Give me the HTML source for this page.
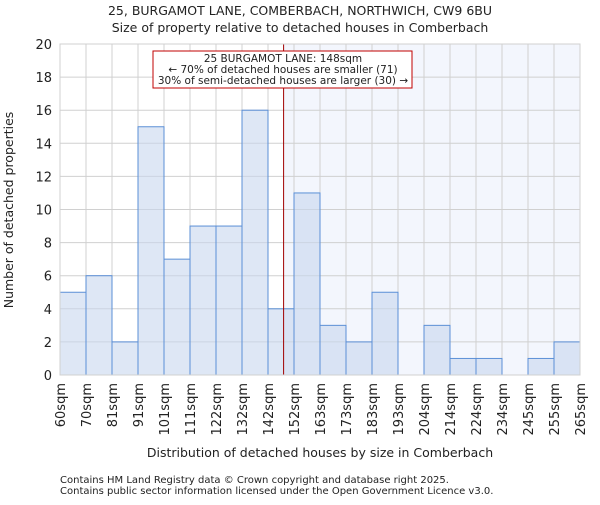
<!DOCTYPE html>
<html><head><meta charset="utf-8"><style>body{margin:0;background:#fff}text{font-family:"DejaVu Sans","Liberation Sans",sans-serif;fill:#222}</style></head>
<body>
<svg id="chart" width="600" height="500" xmlns="http://www.w3.org/2000/svg">
<text x="300" y="15" font-size="12.5" text-anchor="middle">25, BURGAMOT LANE, COMBERBACH, NORTHWICH, CW9 6BU</text>
<text x="300" y="32" font-size="12.5" text-anchor="middle">Size of property relative to detached houses in Comberbach</text>
<g id="plot"></g>
<text x="320" y="457" font-size="12.5" text-anchor="middle">Distribution of detached houses by size in Comberbach</text>
<text transform="translate(13,210) rotate(-90)" font-size="12.5" text-anchor="middle">Number of detached properties</text>
<text x="60" y="483" font-size="10" fill="#444">Contains HM Land Registry data © Crown copyright and database right 2025.</text>
<text x="60" y="494" font-size="10" fill="#444">Contains public sector information licensed under the Open Government Licence v3.0.</text>
</svg>
<script>
const categories=["60sqm","70sqm","81sqm","91sqm","101sqm","111sqm","122sqm","132sqm","142sqm","152sqm","163sqm","173sqm","183sqm","193sqm","204sqm","214sqm","224sqm","234sqm","245sqm","255sqm","265sqm"];
const counts=[5,6,2,15,7,9,9,16,4,11,3,2,5,0,3,1,1,0,1,2];
const yTicks=[0,2,4,6,8,10,12,14,16,18,20];
const markerValue=148;
const markerBinStart=142, markerBinEnd=152, markerBinIndex=8;
const NS="http://www.w3.org/2000/svg";
const g=document.getElementById('plot');
const X0=60,X1=580,Y0=375,Y1=44;
const bw=(X1-X0)/counts.length;
const xs=i=>X0+i*bw;
const ys=v=>Y0-(v/20)*(Y0-Y1);
function mk(t,a){const e=document.createElementNS(NS,t);for(const k in a)e.setAttribute(k,a[k]);g.appendChild(e);return e;}
const mx=xs(markerBinIndex)+(markerValue-markerBinStart)/(markerBinEnd-markerBinStart)*bw;
let e=mk('rect',{x:mx,y:Y1,width:X1-mx,height:Y0-Y1,fill:'#f3f6fd'});


yTicks.forEach(v=>{
 let l=mk('line',{x1:X0,x2:X1,y1:ys(v),y2:ys(v),stroke:'#d0d0d0'});
 
 
 let t=mk('text',{x:X0-8,y:ys(v)+5,'font-size':13,'text-anchor':'end'});t.textContent=v;
 
 
});
categories.forEach((c,i)=>{
 let l=mk('line',{x1:xs(i),x2:xs(i),y1:Y1,y2:Y0,stroke:'#d0d0d0'});
 
 
 let t=mk('text',{transform:`translate(${xs(i)+5},383) rotate(-90)`,'font-size':13,'text-anchor':'end'});t.textContent=c;
 
 
});
counts.forEach((v,i)=>{
 if(v<=0)return;
 let r=mk('rect',{x:xs(i),y:ys(v),width:bw,height:Y0-ys(v),fill:'rgba(200,215,238,0.6)',stroke:'#5b8fd6','stroke-width':1});
 
 
});
let m=mk('line',{x1:mx,x2:mx,y1:Y1,y2:Y0,stroke:'#a00000','stroke-width':1});


let box=mk('rect',{x:153,y:51,width:259,height:37,fill:'#fff',stroke:'#c00000'});


[["25 BURGAMOT LANE: 148sqm",62],["← 70% of detached houses are smaller (71)",73],["30% of semi-detached houses are larger (30) →",84]].forEach(([s,y])=>{
 let t=mk('text',{x:283,y:y,'font-size':10.5,'text-anchor':'middle'});t.textContent=s;
 
 
});
let ax=mk('rect',{x:X0,y:Y1,width:X1-X0,height:Y0-Y1,fill:'none',stroke:'#d0d0d0'});


</script>
</body></html>
